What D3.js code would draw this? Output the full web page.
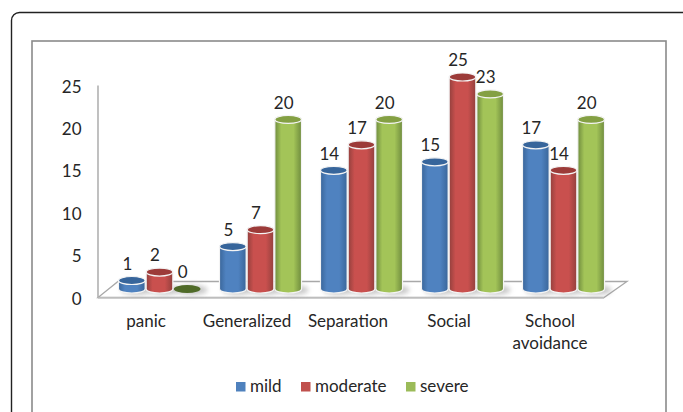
<!DOCTYPE html>
<html>
<head>
<meta charset="utf-8">
<script src="https://cdnjs.cloudflare.com/ajax/libs/d3/7.8.5/d3.min.js"></script>
<style>
html,body{margin:0;padding:0;background:#fff}
svg{display:block}
text{font-family:Lato,sans-serif;fill:#262626}
</style>
</head>
<body>
<svg id="chart" width="683" height="412"></svg>
<script>
const categories = ["panic", "Generalized", "Separation", "Social", "School avoidance"];
const seriesNames = ["mild", "moderate", "severe"];
const mild = [1, 5, 14, 15, 17];
const moderate = [2, 7, 17, 25, 14];
const severe = [0, 20, 20, 23, 20];
const yTicks = [0, 5, 10, 15, 20, 25];

const palette = {
  mild: {edge: "#3a669a", mid: "#4f82c0", top: "#37659b", key: "#4f81bd"},
  moderate: {edge: "#93403d", mid: "#c9504e", top: "#9c3b39", key: "#c0504d"},
  severe: {edge: "#6f8c3e", mid: "#a3c458", top: "#84a043", key: "#9bbb59"}
};
const seriesValues = {mild, moderate, severe};

const svg = d3.select("#chart");
const defs = svg.append("defs");

seriesNames.forEach(name => {
  const g = defs.append("linearGradient").attr("id", "cyl-" + name);
  [[0, palette[name].edge], [0.24, palette[name].mid], [0.7, palette[name].mid], [1, palette[name].edge]]
    .forEach(([o, c]) => g.append("stop").attr("offset", o).attr("stop-color", c));
});
defs.append("filter").attr("id", "soft").attr("x", "-30%").attr("y", "-100%").attr("width", "160%").attr("height", "300%")
  .append("feGaussianBlur").attr("stdDeviation", 2.5);

// Outer rounded card and inner chart frame, both running off the page edge
svg.append("rect").attr("x", 11.5).attr("y", 12.5).attr("width", 700).attr("height", 440).attr("rx", 8)
  .attr("fill", "#fff").attr("stroke", "#222").attr("stroke-width", 1.4);
svg.append("rect").attr("x", 32).attr("y", 41).attr("width", 634).attr("height", 420)
  .attr("fill", "#fff").attr("stroke", "#8a8a8a").attr("stroke-width", 1.6);

const y = d3.scaleLinear().domain([0, 25]).range([289, 77]);
const yAxisScale = d3.scaleLinear().domain([0, 25]).range([297, 85]);
const x0 = d3.scaleBand().domain(categories).range([109, 614]).paddingInner(0.178).paddingOuter(0.089);
const x1 = d3.scaleBand().domain(seriesNames).range([0, x0.bandwidth()]);

// Floor of the 3D plot area
svg.append("path")
  .attr("d", d3.line()([[98, 297.5], [604, 297.5], [627, 281.5], [118, 281.5]]) + "Z")
  .attr("fill", "#fff").attr("stroke", "#a8a8a8").attr("stroke-width", 1.3);
svg.append("line").attr("x1", 98).attr("x2", 604).attr("y1", 298).attr("y2", 298)
  .attr("stroke", "#c4c4c4").attr("stroke-width", 1.6);

// Vertical axis
const axis = svg.append("g").attr("transform", "translate(97.5,0)")
  .call(d3.axisLeft(yAxisScale).tickValues(yTicks).tickSize(0).tickPadding(16));
axis.select(".domain").attr("stroke", "#a6a6a6").attr("stroke-width", 1.4);
axis.selectAll("text").attr("font-size", 17).attr("dy", "0.42em").attr("fill", "#262626")
  .style("font-family", "Lato,sans-serif");

const rows = categories.flatMap((c, i) => seriesNames.map(s => ({category: c, series: s, value: seriesValues[s][i]})));
const barX = d => x0(d.category) + x1(d.series);
const w = x1.bandwidth();
const rx = (w - 1) / 2, ry = 4;

// Contact shadows on the floor
svg.append("g").selectAll("ellipse").data(rows).join("ellipse")
  .attr("cx", d => barX(d) + w / 2 + 5).attr("cy", y(0) + 1)
  .attr("rx", rx + 2).attr("ry", 5)
  .attr("fill", "#9a9a9a").attr("opacity", 0.55).attr("filter", "url(#soft)");

// Cylinders: body with rounded foot, then the darker cap
const bars = svg.append("g").selectAll("g").data(rows).join("g")
  .attr("transform", d => `translate(${barX(d) + w / 2},0)`);
bars.filter(d => d.value > 0).append("path")
  .attr("d", d => `M${-rx},${y(d.value)} L${-rx},${y(0)} A${rx},${ry} 0 0 0 ${rx},${y(0)} L${rx},${y(d.value)} Z`)
  .attr("fill", d => `url(#cyl-${d.series})`)
  .attr("stroke", "#f4f4f4").attr("stroke-width", 1.2);
bars.append("ellipse")
  .attr("cy", d => y(d.value)).attr("rx", rx).attr("ry", ry)
  .attr("fill", d => d.value > 0 ? palette[d.series].top : "#4f6a28")
  .attr("stroke", d => d.value > 0 ? "#f4f4f4" : "none").attr("stroke-width", 1.2);

// Value labels
svg.append("g").selectAll("text").data(rows).join("text")
  .attr("x", d => barX(d) + w / 2 - 4.5).attr("y", d => y(d.value) - 16.5)
  .attr("dy", "0.35em").attr("text-anchor", "middle").attr("font-size", 17)
  .text(d => d.value);

// Category labels, wrapped on spaces only where the slot is narrow
const catLines = {"School avoidance": ["School", "avoidance"]};
const cats = svg.append("g").selectAll("text").data(categories).join("text")
  .attr("text-anchor", "middle").attr("font-size", 17)
  .attr("transform", d => `translate(${x0(d) + x0.bandwidth() / 2 - 13.5},321)`);
cats.selectAll("tspan").data(d => catLines[d] || [d]).join("tspan")
  .attr("x", 0).attr("y", (d, i) => i * 22).attr("dy", "0.35em").text(d => d);

// Legend
const legendX = [236, 301, 406];
const legend = svg.append("g").selectAll("g").data(seriesNames).join("g")
  .attr("transform", (d, i) => `translate(${legendX[i]},382)`);
legend.append("rect").attr("width", 9.5).attr("height", 9.5).attr("fill", d => palette[d].key);
legend.append("text").attr("x", 14).attr("y", 4.5).attr("dy", "0.35em").attr("font-size", 17).text(d => d);
</script>
</body>
</html>
